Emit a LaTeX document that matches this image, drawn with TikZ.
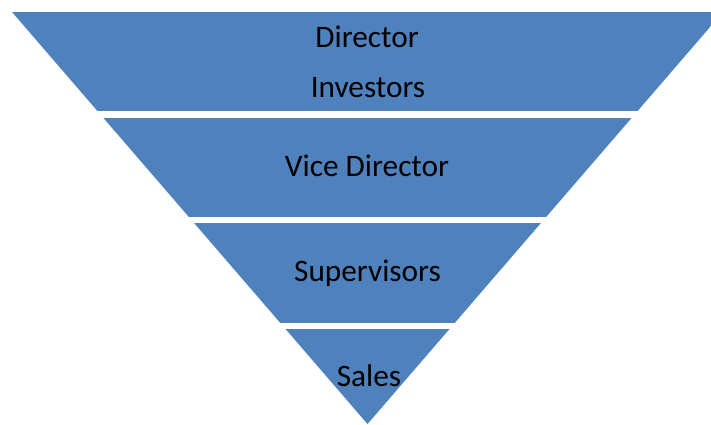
\documentclass[tikz,border=0pt]{standalone}
\usepackage{fontspec}
\setmainfont{Carlito}
\definecolor{bandblue}{HTML}{4F81BD}
\begin{document}
\begin{tikzpicture}[x=1pt,y=-1pt,
  lbl/.style={font=\fontsize{31.3}{36}\selectfont, text=black, inner sep=0pt, anchor=base}]
\useasboundingbox (0,0) rectangle (711,424);
\begin{scope}
  \clip (0,0) rectangle (711,424);
  \clip (12,12) -- (723,12) -- (367.5,424) -- cycle;
  \fill[bandblue] (0,12) rectangle (711,111);
  \fill[bandblue] (0,117.5) rectangle (711,217);
  \fill[bandblue] (0,223) rectangle (711,323);
  \fill[bandblue] (0,329) rectangle (711,430);
\end{scope}
\node[lbl] (director) at (367,47) {Director};
\node[lbl] (investors) at (368,97) {Investors};
\node[lbl] (vice) at (367,176.7) {Vice Director};
\node[lbl] (super) at (367.5,281.7) {Supervisors};
\node[lbl] (sales) at (369,386.7) {Sales};
\end{tikzpicture}
\end{document}
